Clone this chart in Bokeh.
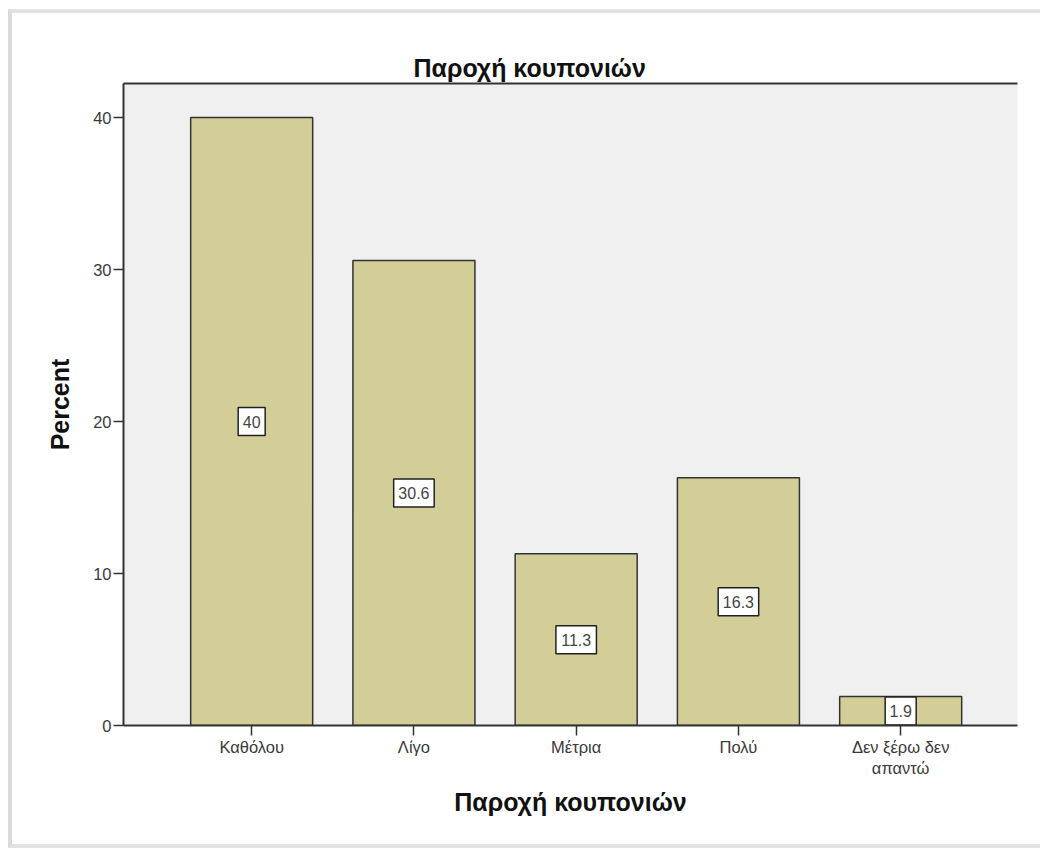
from bokeh.plotting import figure
from bokeh.models import ColumnDataSource, Range1d, FixedTicker, LinearAxis
from bokeh.core.properties import value
from bokeh.embed import file_html
from bokeh.resources import INLINE

# Survey answers: how much coupons are offered
categories = ["Καθόλου", "Λίγο", "Μέτρια", "Πολύ", "Δεν ξέρω δεν\nαπαντώ"]
percent = [40, 30.6, 11.3, 16.3, 1.9]
y_ticks = [0, 10, 20, 30, 40]

positions = list(range(len(categories)))
value_text = [f"{v:g}" for v in percent]
# box around each value label, sized to its characters
box_w = [8 + 9.5 * sum(ch.isdigit() for ch in t) + 4 * t.count(".")
         for t in value_text]
source = ColumnDataSource(dict(
    x=positions,
    top=percent,
    mid=[v / 2 for v in percent],
    label=value_text,
    box_w=box_w,
))

FONT = "Liberation Sans"
DARK = "#333333"

p = figure(
    width=1032, height=839,
    output_backend="svg", toolbar_location=None,
    x_range=Range1d(-0.79, 4.72), y_range=Range1d(0, 42.24),
    min_border_left=111, min_border_right=27,
    min_border_top=70, min_border_bottom=127,
    background_fill_color="#f0f0f0", border_fill_color="white",
    title="Παροχή κουπονιών",
)
# light frame around the whole chart
p.styles = {
    "margin-left": "8px", "margin-top": "9px",
    "border-left": "4px solid #dadada",
    "border-top": "4px solid #e2e2e2",
    "border-bottom": "4px solid #e2e2e2",
}
p.outline_line_color = None
p.grid.visible = False

p.title.align = "left"
p.title.offset = 290
p.title.standoff = 4
p.title.text_font = FONT
p.title.text_font_size = "25px"
p.title.text_font_style = "bold"
p.title.text_color = "#111111"

p.vbar(x="x", top="top", width=0.752, source=source,
       fill_color="#d3ce97", line_color=DARK, line_width=1.5)

p.rect(x="x", y="mid", width="box_w", height=28, source=source,
       width_units="screen", height_units="screen",
       fill_color="white", line_color="#222222", line_width=1.5)
p.text(x="x", y="mid", text="label", source=source,
       text_align="center", text_baseline="middle",
       text_font=value(FONT), text_font_size="16px", text_color="#444444")

xa = p.xaxis[0]
xa.ticker = FixedTicker(ticks=positions)
xa.major_label_overrides = {i: c for i, c in enumerate(categories)}
xa.axis_label = "Παροχή κουπονιών"
xa.minor_tick_line_color = None

ya = p.yaxis[0]
ya.ticker = FixedTicker(ticks=y_ticks)
ya.axis_label = "Percent"
ya.minor_tick_line_color = None

for ax in (xa, ya):
    ax.axis_line_color = DARK
    ax.axis_line_width = 2
    ax.major_tick_line_color = DARK
    ax.major_tick_line_width = 1.5
    ax.major_tick_in = 0
    ax.major_tick_out = 10
    ax.major_label_standoff = 2
    ax.major_label_text_font = FONT
    ax.major_label_text_font_size = "16.5px"
    ax.major_label_text_color = "#3a3a3a"
    ax.axis_label_text_font = FONT
    ax.axis_label_text_font_size = "25px"
    ax.axis_label_text_font_style = "bold"
    ax.axis_label_text_color = "#111111"

xa.axis_label_standoff = 8
ya.axis_label_standoff = 16

# dark rule along the top edge of the plot area
top_rule = LinearAxis(ticker=FixedTicker(ticks=[]), axis_line_color=DARK,
                      axis_line_width=2, major_tick_line_color=None,
                      minor_tick_line_color=None,
                      major_label_text_font_size="0px")
p.add_layout(top_rule, "above")

open("out.html", "w").write(file_html(p, INLINE))
